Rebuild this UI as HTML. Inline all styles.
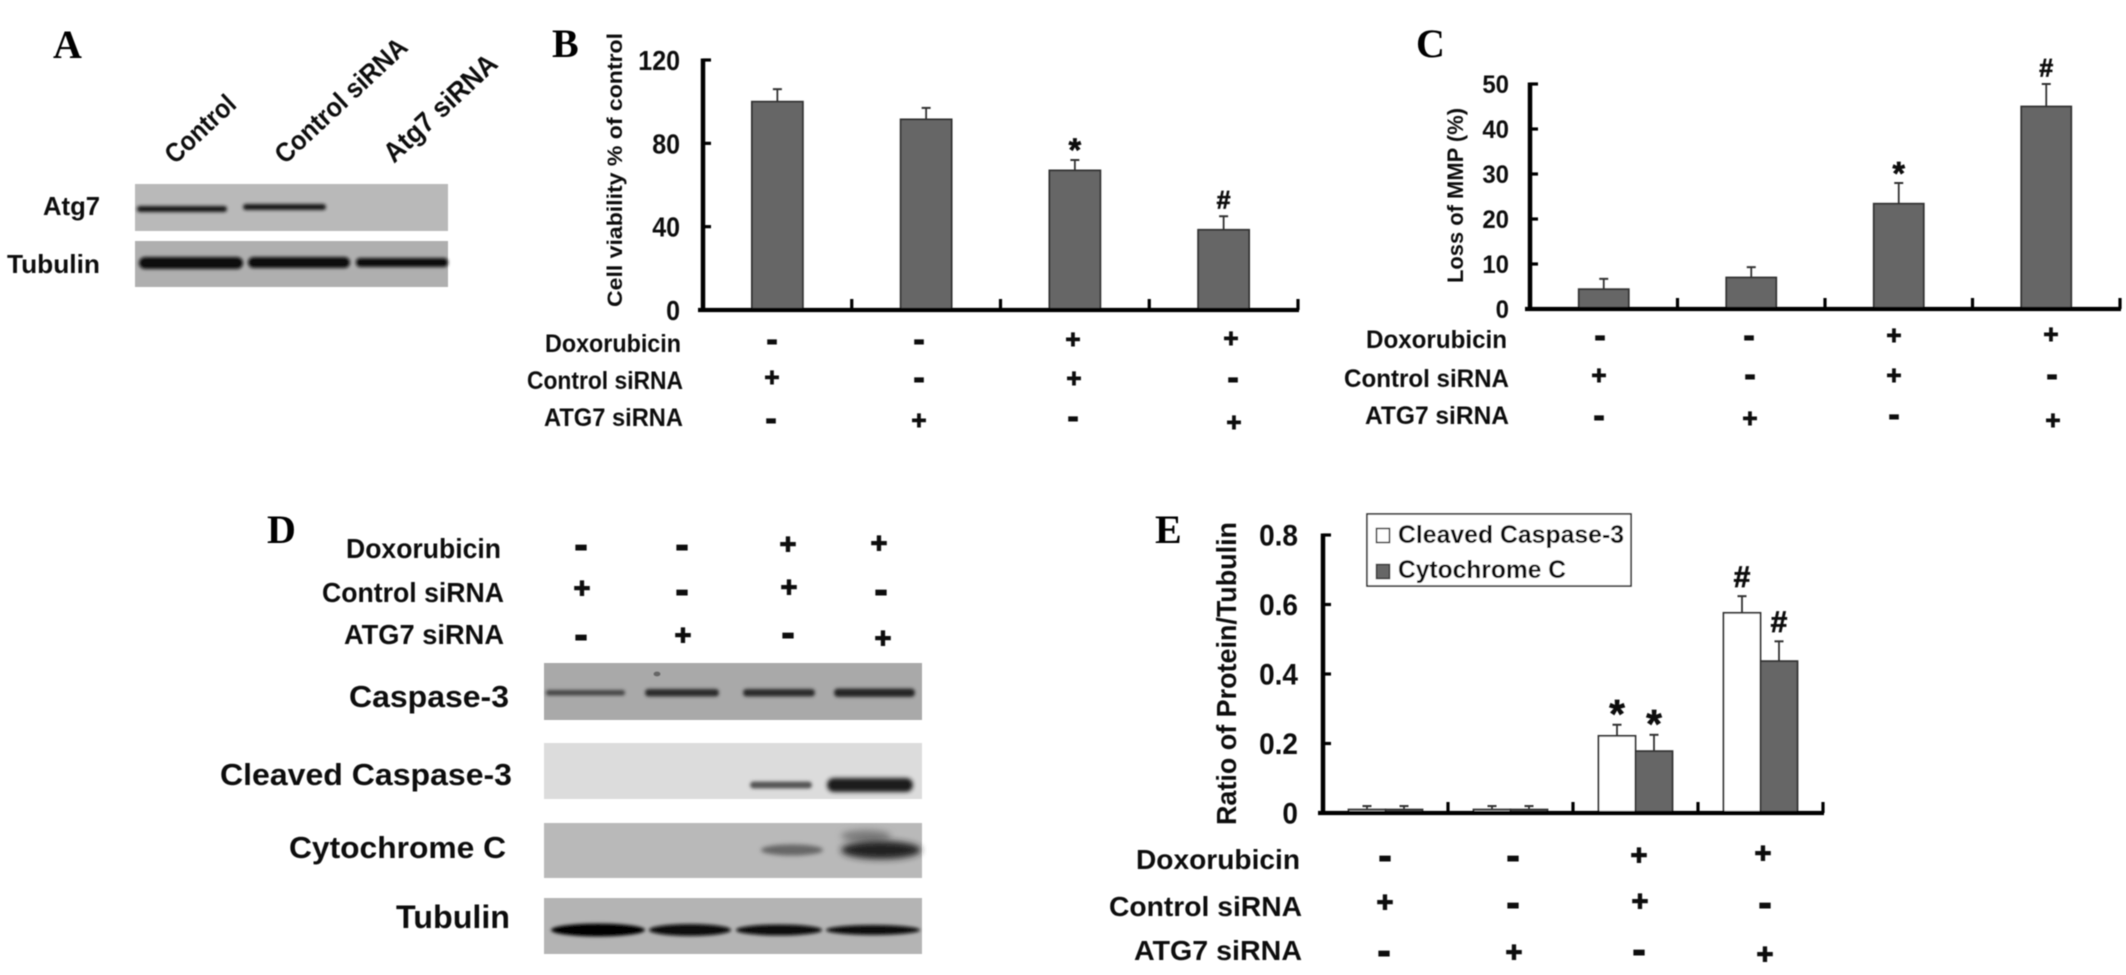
<!DOCTYPE html>
<html lang="en">
<head>
<meta charset="utf-8">
<title>Atg7 knockdown figure</title>
<style>
html,body{margin:0;padding:0;background:#fff;}
svg{display:block;}
text{font-family:"Liberation Sans",Arial,sans-serif;font-weight:bold;fill:#111;}
.letter{font-family:"Liberation Serif","Times New Roman",serif;font-size:40px;fill:#000;}
.row{font-size:25px;}
.rowb{font-size:28px;}
.mi{font-size:34px;text-anchor:middle;stroke:#111;stroke-width:1px;transform:translateY(1px);}
.pl{font-size:26px;text-anchor:middle;stroke:#111;stroke-width:.9px;}
.mib{font-size:40px;text-anchor:middle;stroke:#111;stroke-width:1.1px;transform:translateY(1px);}
.plb{font-size:29px;text-anchor:middle;stroke:#111;stroke-width:1.1px;}
</style>
</head>
<body>
<svg xmlns="http://www.w3.org/2000/svg" width="2126" height="975" viewBox="0 0 2126 975">
<defs>
<filter id="soft" x="-5%" y="-5%" width="110%" height="110%"><feGaussianBlur stdDeviation="0.65"/></filter>
<filter id="band" x="-20%" y="-200%" width="140%" height="500%"><feGaussianBlur stdDeviation="1.6"/></filter>
<filter id="band2" x="-20%" y="-200%" width="140%" height="500%"><feGaussianBlur stdDeviation="2.2"/></filter>
<filter id="smear" x="-30%" y="-200%" width="160%" height="500%"><feGaussianBlur stdDeviation="3.5"/></filter>
</defs>
<rect width="2126" height="975" fill="#fff"/>
<g filter="url(#soft)">

<!-- Panel letters -->
<text class="letter" x="53" y="58">A</text>
<text class="letter" x="552" y="57">B</text>
<text class="letter" x="1416" y="57">C</text>
<text class="letter" x="267" y="543">D</text>
<text class="letter" x="1155" y="543">E</text>

<!-- Panel A -->
<g>
<text font-size="27" transform="translate(175 165) rotate(-43)" textLength="86" lengthAdjust="spacingAndGlyphs">Control</text>
<text font-size="27" transform="translate(285 165) rotate(-43)" textLength="170" lengthAdjust="spacingAndGlyphs">Control siRNA</text>
<text font-size="28" transform="translate(394 164) rotate(-43)" textLength="144" lengthAdjust="spacingAndGlyphs">Atg7 siRNA</text>
<text font-size="26" x="43" y="215" textLength="57" lengthAdjust="spacingAndGlyphs">Atg7</text>
<text font-size="26" x="7" y="273" textLength="93" lengthAdjust="spacingAndGlyphs">Tubulin</text>
<rect x="135" y="184" width="313" height="47" fill="#b9b9b9"/>
<rect x="135" y="241" width="313" height="46" fill="#afafaf"/>
<rect x="137" y="206" width="90" height="6" rx="3" fill="#141414" filter="url(#band)"/>
<rect x="243" y="204" width="83" height="6" rx="3" fill="#141414" filter="url(#band)"/>
<rect x="139" y="257" width="104" height="12" rx="6" fill="#0a0a0a" filter="url(#band)"/>
<rect x="248" y="257" width="102" height="11" rx="5.5" fill="#0f0f0f" filter="url(#band)"/>
<rect x="356" y="258" width="92" height="9" rx="4" fill="#0f0f0f" filter="url(#band)"/>
</g>

<!-- Panel B treatment table -->
<g>
<text class="row" x="545" y="352" textLength="136" lengthAdjust="spacingAndGlyphs">Doxorubicin</text>
<text class="row" x="527" y="389" textLength="156" lengthAdjust="spacingAndGlyphs">Control siRNA</text>
<text class="row" x="544" y="426" textLength="139" lengthAdjust="spacingAndGlyphs">ATG7 siRNA</text>
<text class="mi" x="772" y="350">-</text>
<text class="mi" x="919" y="350">-</text>
<text class="pl" x="1073" y="348">+</text>
<text class="pl" x="1231" y="347">+</text>
<text class="pl" x="772" y="386">+</text>
<text class="mi" x="919" y="388">-</text>
<text class="pl" x="1074" y="387">+</text>
<text class="mi" x="1233" y="388">-</text>
<text class="mi" x="771" y="429">-</text>
<text class="pl" x="919" y="429">+</text>
<text class="mi" x="1073" y="427">-</text>
<text class="pl" x="1234" y="431">+</text>
</g>

<!-- Panel C treatment table -->
<g>
<text class="row" x="1366" y="348" textLength="141" lengthAdjust="spacingAndGlyphs">Doxorubicin</text>
<text class="row" x="1344" y="387" textLength="165" lengthAdjust="spacingAndGlyphs">Control siRNA</text>
<text class="row" x="1365" y="424" textLength="144" lengthAdjust="spacingAndGlyphs">ATG7 siRNA</text>
<text class="mi" x="1600" y="346">-</text>
<text class="mi" x="1749" y="346">-</text>
<text class="pl" x="1894" y="344">+</text>
<text class="pl" x="2051" y="343">+</text>
<text class="pl" x="1599" y="384">+</text>
<text class="mi" x="1750" y="385">-</text>
<text class="pl" x="1894" y="384">+</text>
<text class="mi" x="2052" y="385">-</text>
<text class="mi" x="1599" y="426">-</text>
<text class="pl" x="1750" y="427">+</text>
<text class="mi" x="1894" y="425">-</text>
<text class="pl" x="2053" y="429">+</text>
</g>

<!-- Panel D -->
<g>
<text class="rowb" x="346" y="558" textLength="155" lengthAdjust="spacingAndGlyphs">Doxorubicin</text>
<text class="rowb" x="322" y="602" textLength="182" lengthAdjust="spacingAndGlyphs">Control siRNA</text>
<text class="rowb" x="344" y="644" textLength="160" lengthAdjust="spacingAndGlyphs">ATG7 siRNA</text>
<text class="mib" x="581" y="557">-</text>
<text class="mib" x="682" y="557">-</text>
<text class="plb" x="788" y="554">+</text>
<text class="plb" x="879" y="553">+</text>
<text class="plb" x="582" y="598">+</text>
<text class="mib" x="682" y="602">-</text>
<text class="plb" x="789" y="597">+</text>
<text class="mib" x="881" y="602">-</text>
<text class="mib" x="581" y="647">-</text>
<text class="plb" x="683" y="645">+</text>
<text class="mib" x="788" y="645">-</text>
<text class="plb" x="883" y="648">+</text>

<text font-size="31" x="349" y="707" textLength="160" lengthAdjust="spacingAndGlyphs">Caspase-3</text>
<text font-size="31" x="220" y="785" textLength="292" lengthAdjust="spacingAndGlyphs">Cleaved Caspase-3</text>
<text font-size="31" x="289" y="858" textLength="217" lengthAdjust="spacingAndGlyphs">Cytochrome C</text>
<text font-size="32" x="396" y="928" textLength="114" lengthAdjust="spacingAndGlyphs">Tubulin</text>

<rect x="544" y="663" width="378" height="57" fill="#a9a9a9"/>
<rect x="544" y="743" width="378" height="56" fill="#dcdcdc"/>
<rect x="544" y="823" width="378" height="55" fill="#b9b9b9"/>
<rect x="544" y="898" width="378" height="56" fill="#b4b4b4"/>

<rect x="546" y="690" width="79" height="5.5" rx="2.5" fill="#444" filter="url(#band)"/>
<rect x="645" y="689" width="74" height="7.5" rx="3.5" fill="#2c2c2c" filter="url(#band)"/>
<rect x="743" y="689" width="72" height="7.5" rx="3.5" fill="#2c2c2c" filter="url(#band)"/>
<rect x="834" y="688.5" width="81" height="8.5" rx="4" fill="#262626" filter="url(#band)"/>
<ellipse cx="657" cy="674" rx="3.5" ry="2.5" fill="#666"/>
<rect x="750" y="781.5" width="62" height="7" rx="3.5" fill="#555" filter="url(#band)"/>
<rect x="827" y="778" width="86" height="14" rx="7" fill="#1e1e1e" filter="url(#band2)"/>
<ellipse cx="792" cy="850" rx="31" ry="5.5" fill="#666" filter="url(#band2)"/>
<ellipse cx="866" cy="836" rx="25" ry="6" fill="#7c7c7c" filter="url(#smear)"/>
<ellipse cx="881" cy="850" rx="40" ry="9" fill="#222" filter="url(#smear)"/>
<ellipse cx="598" cy="930" rx="47" ry="6.5" fill="#050505" filter="url(#band)"/>
<ellipse cx="690" cy="930" rx="41" ry="6" fill="#0a0a0a" filter="url(#band)"/>
<ellipse cx="779" cy="930" rx="43" ry="5.5" fill="#0a0a0a" filter="url(#band)"/>
<ellipse cx="873" cy="930" rx="47" ry="5" fill="#0a0a0a" filter="url(#band)"/>
</g>

<!-- Panel E treatment table -->
<g>
<text class="rowb" x="1136" y="869" textLength="164" lengthAdjust="spacingAndGlyphs">Doxorubicin</text>
<text class="rowb" x="1109" y="916" textLength="193" lengthAdjust="spacingAndGlyphs">Control siRNA</text>
<text class="rowb" x="1134" y="960" textLength="168" lengthAdjust="spacingAndGlyphs">ATG7 siRNA</text>
<text class="mib" x="1385" y="868">-</text>
<text class="mib" x="1513" y="868">-</text>
<text class="plb" x="1639" y="865">+</text>
<text class="plb" x="1763" y="863">+</text>
<text class="plb" x="1385" y="912">+</text>
<text class="mib" x="1513" y="915">-</text>
<text class="plb" x="1640" y="911">+</text>
<text class="mib" x="1765" y="915">-</text>
<text class="mib" x="1384" y="963">-</text>
<text class="plb" x="1514" y="962">+</text>
<text class="mib" x="1639" y="962">-</text>
<text class="plb" x="1765" y="964">+</text>
</g>

<!-- Chart axis titles -->
<text font-size="21" transform="translate(622 307) rotate(-90)" textLength="274" lengthAdjust="spacingAndGlyphs">Cell viability % of control</text>
<text font-size="22" transform="translate(1463 283) rotate(-90)" textLength="175" lengthAdjust="spacingAndGlyphs">Loss of MMP (%)</text>
<text font-size="28" transform="translate(1236 825) rotate(-90)" textLength="303" lengthAdjust="spacingAndGlyphs">Ratio of Protein/Tubulin</text>

<g id="chart-b"></g>
<g id="chart-c"></g>
<g id="chart-e"></g>

<!-- Legend E -->
<g>
<rect x="1367" y="514" width="264" height="72" fill="#fff" stroke="#333" stroke-width="1.6"/>
<rect x="1376.5" y="528.5" width="13" height="14" fill="#fff" stroke="#333" stroke-width="1.5"/>
<text font-size="25" x="1398" y="543" textLength="226" lengthAdjust="spacingAndGlyphs">Cleaved Caspase-3</text>
<rect x="1376.5" y="564.5" width="13" height="14" fill="#666" stroke="#333" stroke-width="1.5"/>
<text font-size="25" x="1398" y="578" textLength="168" lengthAdjust="spacingAndGlyphs">Cytochrome C</text>
</g>
</g>
</svg>
<script>
// Chart B: cell viability
const bCategories = ['control-sirna', 'atg7-sirna', 'dox-control-sirna', 'dox-atg7-sirna'];
const bTicks = [0, 40, 80, 120];
const bTickLabels = ['0', '40', '80', '120'];
const bValues = [100, 91.5, 67, 38.5];
const bErrors = [6, 5.5, 5, 6.5];
const bMarks = ['', '', '*', '#'];

// Chart C: loss of MMP
const cCategories = ['control-sirna', 'atg7-sirna', 'dox-control-sirna', 'dox-atg7-sirna'];
const cTicks = [0, 10, 20, 30, 40, 50];
const cTickLabels = ['0', '10', '20', '30', '40', '50'];
const cValues = [4.4, 7, 23.4, 45];
const cErrors = [2.3, 2.3, 4.6, 5];
const cMarks = ['', '', '*', '#'];

// Chart E: protein / tubulin ratio
const eCategories = ['control-sirna', 'atg7-sirna', 'dox-control-sirna', 'dox-atg7-sirna'];
const eTicks = [0, 0.2, 0.4, 0.6, 0.8];
const eTickLabels = ['0', '0.2', '0.4', '0.6', '0.8'];
const eCleavedValues = [0.01, 0.01, 0.222, 0.576];
const eCleavedErrors = [0.01, 0.01, 0.032, 0.048];
const eCleavedMarks = ['', '', '*', '#'];
const eCytochromeValues = [0.01, 0.01, 0.178, 0.437];
const eCytochromeErrors = [0.01, 0.01, 0.047, 0.057];
const eCytochromeMarks = ['', '', '*', '#'];

const SVGNS = 'http://www.w3.org/2000/svg';

function drawLine(parent, x1, y1, x2, y2, width, color, name) {
  const el = document.createElementNS(SVGNS, 'line');
  el.setAttribute('x1', x1);
  el.setAttribute('y1', y1);
  el.setAttribute('x2', x2);
  el.setAttribute('y2', y2);
  el.setAttribute('stroke', color);
  el.setAttribute('stroke-width', width);
  
  
  parent.appendChild(el);
}

function drawChart(id, layout, categories, ticks, tickLabels, series) {
  const root = document.getElementById(id);
  const step = (layout.xEnd - layout.xAxis) / categories.length;
  const xBand = function (i) { return layout.xAxis + (i + 0.5) * step; };
  const yScale = function (v) {
    return layout.y0 - v * (layout.y0 - layout.yTop) / ticks[ticks.length - 1];
  };

  series.forEach(function (s, si) {
    s.values.forEach(function (v, i) {
      const centre = xBand(i) + layout.barWidth * (si - (series.length - 1) / 2);
      const top = yScale(v);
      const errTop = yScale(v + s.errors[i]);

      drawLine(root, centre, top, centre, errTop, 1.8, '#333', 'error-bar-' + categories[i]);
      drawLine(root, centre - 4.5, errTop, centre + 4.5, errTop, 2, '#333', 'error-cap-' + categories[i]);

      const bar = document.createElementNS(SVGNS, 'rect');
      bar.setAttribute('x', centre - layout.barWidth / 2);
      bar.setAttribute('y', top);
      bar.setAttribute('width', layout.barWidth);
      bar.setAttribute('height', layout.y0 - top);
      bar.setAttribute('fill', s.fill);
      bar.setAttribute('stroke', '#333');
      bar.setAttribute('stroke-width', '1.8');
      
      
      root.appendChild(bar);

      if (s.marks[i]) {
        const isStar = s.marks[i] === '*';
        const size = isStar ? layout.starSize : layout.hashSize;
        const mark = document.createElementNS(SVGNS, 'text');
        mark.setAttribute('x', centre);
        mark.setAttribute('y', errTop - layout.markGap + size * (isStar ? 0.57 : 0.36));
        mark.setAttribute('font-size', size);
        mark.setAttribute('text-anchor', 'middle');
        mark.setAttribute('stroke', '#111');
        mark.setAttribute('stroke-width', '0.7');
        
        
        mark.textContent = s.marks[i];
        root.appendChild(mark);
      }
    });
  });

  drawLine(root, layout.xAxis, layout.yTop - 1.5, layout.xAxis, layout.y0 + 2, 4.5, '#000', 'y-axis-line');
  drawLine(root, layout.xAxis - 5, layout.y0, layout.xEnd + 1, layout.y0, 4.2, '#000', 'x-axis-line');

  ticks.forEach(function (t, i) {
    const y = yScale(t);
    if (t !== 0) {
      drawLine(root, layout.xAxis, y, layout.xAxis + 8, y, 3.2, '#000', 'y-axis-tick');
    }
    const label = document.createElementNS(SVGNS, 'text');
    const baseline = y + layout.tickSize * 0.36 * layout.tickStretch;
    label.setAttribute('transform', 'translate(' + layout.tickRight + ' ' + baseline + ') scale(1 ' + layout.tickStretch + ')');
    label.setAttribute('font-size', layout.tickSize);
    label.setAttribute('text-anchor', 'end');
    
    
    label.textContent = tickLabels[i];
    root.appendChild(label);
  });

  categories.forEach(function (c, i) {
    const x = layout.xAxis + (i + 1) * step;
    drawLine(root, x, layout.y0, x, layout.y0 - 11, 3.2, '#000', 'x-axis-tick');
  });
}

drawChart('chart-b',
  { xAxis: 703, xEnd: 1298, y0: 310, yTop: 60, barWidth: 51, tickRight: 680, tickSize: 25, tickStretch: 1.12, starSize: 32, hashSize: 25, markGap: 17 },
  bCategories, bTicks, bTickLabels,
  [{ name: 'cell-viability', fill: '#666', values: bValues, errors: bErrors, marks: bMarks }]);

drawChart('chart-c',
  { xAxis: 1530, xEnd: 2120, y0: 309, yTop: 84, barWidth: 50, tickRight: 1509, tickSize: 24, tickStretch: 1.05, starSize: 32, hashSize: 25, markGap: 16.5 },
  cCategories, cTicks, cTickLabels,
  [{ name: 'loss-of-mmp', fill: '#666', values: cValues, errors: cErrors, marks: cMarks }]);

drawChart('chart-e',
  { xAxis: 1323, xEnd: 1823, y0: 813, yTop: 535, barWidth: 37, tickRight: 1298, tickSize: 28, tickStretch: 1.05, starSize: 40, hashSize: 30, markGap: 20 },
  eCategories, eTicks, eTickLabels,
  [
    { name: 'cleaved-caspase-3', fill: '#fff', values: eCleavedValues, errors: eCleavedErrors, marks: eCleavedMarks },
    { name: 'cytochrome-c', fill: '#666', values: eCytochromeValues, errors: eCytochromeErrors, marks: eCytochromeMarks }
  ]);
</script>
</body>
</html>
